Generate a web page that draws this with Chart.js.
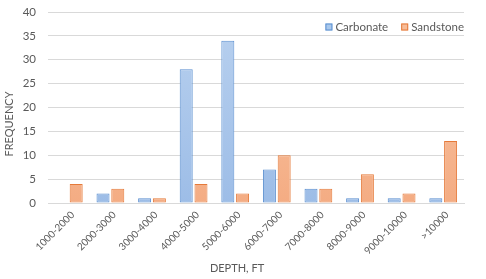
<!DOCTYPE html>
<html>
<head>
<meta charset="utf-8">
<script src="https://cdn.jsdelivr.net/npm/chart.js@4.4.0/dist/chart.umd.min.js"></script>
<style>
  html, body { margin: 0; padding: 0; background: #fff; }
  #wrap { width: 486px; height: 279px; }
</style>
</head>
<body>
<div id="wrap"><canvas id="chart"></canvas></div>
<script>
// Depth bins and counts
const depthBins = ['1000-2000', '2000-3000', '3000-4000', '4000-5000', '5000-6000',
                   '6000-7000', '7000-8000', '8000-9000', '9000-10000', '>10000'];
const carbonate = [0, 2, 1, 28, 34, 7, 3, 1, 1, 1];
const sandstone = [4, 3, 1, 4, 2, 10, 3, 6, 2, 13];
const yTicks = [0, 5, 10, 15, 20, 25, 30, 35, 40];

const grey = '#595959';
const gridColor = '#d9d9d9';
const fontFamily = 'Lato';

const swatches = [
    { fill: '#a9c8ec', stroke: '#5b8fd0' },
    { fill: '#f7bc98', stroke: '#e57a3a' }
];

// vertical gradient over the plot area, light at the top
function barFill(top, bottom) {
    return function(context) {
        const area = context.chart.chartArea;
        if (!area) return bottom;
        const g = context.chart.ctx.createLinearGradient(0, area.top, 0, area.bottom);
        g.addColorStop(0, top);
        g.addColorStop(1, bottom);
        return g;
    };
}

// Excel style legend sitting inside the plot, top right,
// plus the two axis titles which Excel centres a bit off the plot
const excelBits = {
    id: 'excelBits',
    afterDraw(chart) {
        const c = chart.ctx;
        const area = chart.chartArea;
        c.save();
        c.font = '11.5px ' + fontFamily;
        c.textBaseline = 'middle';
        const y = area.top + 15;
        const items = chart.data.datasets.map((ds, i) => ({ text: ds.label, sw: swatches[i] }));
        // lay out from the right edge back
        let x = area.right;
        const pos = [];
        for (let i = items.length - 1; i >= 0; i--) {
            const w = c.measureText(items[i].text).width;
            x -= w;
            pos[i] = x;
            x -= 10 + 13;
        }
        items.forEach((it, i) => {
            const bx = pos[i] - 10;
            c.fillStyle = it.sw.fill;
            c.fillRect(bx, y - 3.5, 7, 7);
            c.strokeStyle = it.sw.stroke;
            c.lineWidth = 1;
            c.strokeRect(bx + 0.5, y - 3, 6, 6);
            c.fillStyle = grey;
            c.fillText(it.text, pos[i], y);
        });

        // axis titles
        c.font = '11px ' + fontFamily;
        c.fillStyle = grey;
        c.textAlign = 'center';
        c.fillText('DEPTH, FT', 237, 268);
        c.translate(9, 124);
        c.rotate(-Math.PI / 2);
        c.fillText('FREQUENCY', 0, 0);
        c.restore();
    }
};

const ctx = document.getElementById('chart').getContext('2d');
new Chart(ctx, {
    type: 'bar',
    data: {
        labels: depthBins,
        datasets: [{
            label: 'Carbonate',
            data: carbonate,
            backgroundColor: barFill('#b9d1ef', '#9dbde7'),
            borderColor: '#5b8fd0',
            borderWidth: 1,
            borderSkipped: false
        }, {
            label: 'Sandstone',
            data: sandstone,
            backgroundColor: barFill('#f9c9a9', '#f4ac83'),
            borderColor: '#e57a3a',
            borderWidth: 1,
            borderSkipped: false
        }]
    },
    plugins: [excelBits],
    options: {
        responsive: true,
        maintainAspectRatio: false,
        animation: false,
        datasets: {
            bar: { categoryPercentage: 0.71, barPercentage: 0.88 }
        },
        layout: { autoPadding: false, padding: { top: 12, right: 22, left: 2, bottom: 0 } },
        plugins: {
            legend: { display: false },
            tooltip: { enabled: false }
        },
        scales: {
            x: {
                afterFit: function(axis) {
                    axis.height = 76;
                    axis.paddingLeft = 0;
                    axis.paddingRight = 0;
                },
                grid: { display: false, drawTicks: false },
                border: { color: gridColor },
                ticks: {
                    color: grey,
                    maxRotation: 45,
                    minRotation: 45,
                    padding: 6,
                    labelOffset: 4,
                    font: { family: fontFamily, size: 10 }
                }
            },
            y: {
                min: 0,
                max: 40,
                afterBuildTicks: function(axis) {
                    axis.ticks = yTicks.map(v => ({ value: v }));
                },
                afterFit: function(axis) {
                    axis.width = 46;
                    axis.paddingTop = 0;
                    axis.paddingBottom = 0;
                },
                grid: { color: gridColor, drawTicks: false },
                border: { display: false },
                ticks: {
                    color: grey,
                    padding: 12,
                    font: { family: fontFamily, size: 11.5 }
                }
            }
        }
    }
});
</script>
</body>
</html>
